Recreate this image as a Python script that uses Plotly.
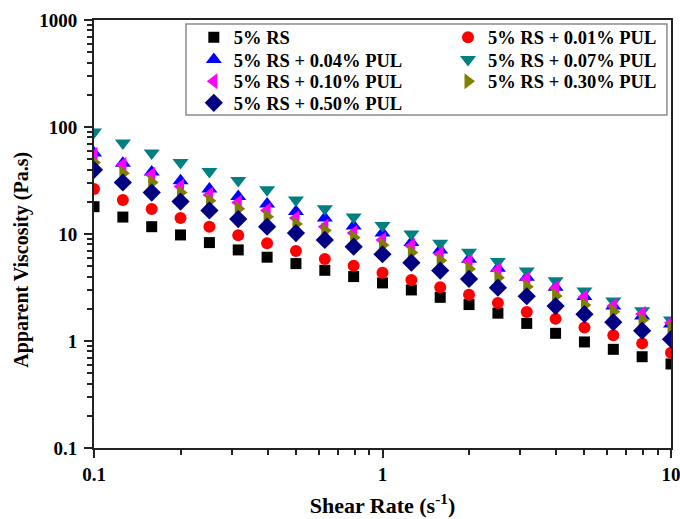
import plotly.graph_objects as go

shear_rate = [0.1, 0.1259, 0.1585, 0.1995, 0.2512, 0.3162, 0.3981, 0.5012, 0.631, 0.7943,
              1.0, 1.259, 1.585, 1.995, 2.512, 3.162, 3.981, 5.012, 6.31, 7.943, 10.0]

rs = [18.0, 14.4, 11.7, 9.8, 8.31, 7.1, 6.07, 5.29, 4.58, 4.0,
      3.49, 3.0, 2.56, 2.19, 1.82, 1.46, 1.18, 0.98, 0.836, 0.713, 0.61]
pul_001 = [26.4, 20.8, 17.1, 14.1, 11.7, 9.75, 8.2, 6.95, 5.85, 5.06,
           4.35, 3.72, 3.18, 2.71, 2.27, 1.87, 1.61, 1.34, 1.13, 0.95, 0.777]
pul_004 = [57.0, 45.9, 37.9, 31.4, 26.4, 22.4, 19.1, 16.2, 14.1, 11.9,
           10.2, 8.31, 7.1, 5.81, 4.79, 3.94, 3.18, 2.6, 2.12, 1.71, 1.44]
pul_007 = [89.6, 70.7, 57.0, 46.5, 38.4, 31.6, 25.9, 20.8, 17.2, 14.4,
           12.0, 10.0, 8.2, 6.76, 5.52, 4.52, 3.66, 2.94, 2.37, 1.92, 1.57]
pul_010 = [55.0, 44.3, 35.7, 27.8, 23.2, 19.7, 16.6, 14.1, 11.7, 10.2,
           8.8, 7.74, 6.51, 5.52, 4.61, 3.8, 3.11, 2.56, 2.12, 1.79, 1.48]
pul_030 = [46.5, 37.0, 30.3, 24.4, 20.4, 17.2, 14.5, 12.4, 10.8, 9.25,
           7.91, 6.7, 5.64, 4.72, 3.91, 3.22, 2.64, 2.17, 1.88, 1.57, 1.31]
pul_050 = [39.8, 30.3, 24.4, 20.1, 16.6, 13.8, 11.7, 10.2, 8.8, 7.62,
           6.47, 5.4, 4.55, 3.8, 3.15, 2.62, 2.12, 1.78, 1.5, 1.25, 1.04]

# name, values, symbol, colour, marker size
series = [
    ("5% RS", rs, "square", "#000000", 11),
    ("5% RS + 0.01% PUL", pul_001, "circle", "#FF0000", 12),
    ("5% RS + 0.04% PUL", pul_004, "triangle-up", "#0000FF", 14),
    ("5% RS + 0.07% PUL", pul_007, "triangle-down", "#008080", 14),
    ("5% RS + 0.10% PUL", pul_010, "triangle-left", "#FF00FF", 14),
    ("5% RS + 0.30% PUL", pul_030, "triangle-right", "#808000", 14),
    ("5% RS + 0.50% PUL", pul_050, "diamond", "#000080", 14),
]

# legend layout: two columns, filled row by row (column x, row y in paper units)
legend_cols = [0.173, 0.6135]
legend_rows = [0.9586, 0.9065, 0.8558, 0.8053]

font_family = "Liberation Serif, Times New Roman, serif"
legend_font = dict(family=font_family, size=18.5, color="black", weight="bold")

fig = go.Figure()
legend_layout = {}
for i, (name, vals, sym, col, sz) in enumerate(series):
    key = "legend" if i == 0 else f"legend{i + 1}"
    fig.add_trace(go.Scatter(
        x=shear_rate, y=vals, mode="markers", name=name, legend=key,
        marker=dict(symbol=sym, color=col, size=sz, line=dict(width=0)),
    ))
    legend_layout[key] = dict(
        orientation="v", x=legend_cols[i % 2], y=legend_rows[i // 2],
        xanchor="left", yanchor="middle",
        bgcolor="rgba(0,0,0,0)", borderwidth=0,
        font=legend_font, itemsizing="trace",
    )

# legend frame (drawn behind the data)
fig.add_shape(type="rect", xref="paper", yref="paper",
              x0=0.1594, x1=0.993, y0=0.778, y1=0.9907,
              line=dict(color="#8c8c8c", width=1.5), fillcolor="white", layer="below")

# y-axis title
fig.add_annotation(text="Apparent Viscosity (Pa.s)", textangle=-90,
                   xref="paper", yref="paper", x=-0.1248, y=0.44,
                   xanchor="center", yanchor="middle", showarrow=False,
                   font=dict(family=font_family, size=20, weight="bold", color="black"))

fig.update_layout(
    width=680, height=519,
    margin=dict(l=94, r=9, t=20, b=71),
    paper_bgcolor="white", plot_bgcolor="white",
    font=dict(family=font_family, color="black"),
    showlegend=True,
    **legend_layout,
    xaxis=dict(
        type="log", range=[-1, 1], dtick=1,
        showgrid=False, zeroline=False, automargin=False,
        showline=True, linecolor="#222222", linewidth=2, mirror=True,
        ticks="outside", ticklen=8, tickwidth=1.5, tickcolor="#222222",
        ticklabeloverflow="allow",
        minor=dict(ticks="outside", ticklen=5, tickwidth=1.5, tickcolor="#222222", dtick="D1", showgrid=False),
        tickfont=dict(family=font_family, size=19, weight="bold"),
        title=dict(text="Shear Rate (s<sup>-1</sup>)", standoff=14,
                   font=dict(family=font_family, size=22, weight="bold")),
    ),
    yaxis=dict(
        type="log", range=[-1, 3], dtick=1,
        showgrid=False, zeroline=False, automargin=False,
        showline=True, linecolor="#222222", linewidth=2, mirror=True,
        ticks="outside", ticklen=8, tickwidth=1.5, tickcolor="#222222",
        ticklabelstandoff=3, ticklabeloverflow="allow",
        minor=dict(ticks="outside", ticklen=5, tickwidth=1.5, tickcolor="#222222", dtick="D1", showgrid=False),
        tickfont=dict(family=font_family, size=19, weight="bold"),
    ),
)

fig.write_html("out.html", config={"displayModeBar": False},
               post_script="document.body.style.margin='0px';")
